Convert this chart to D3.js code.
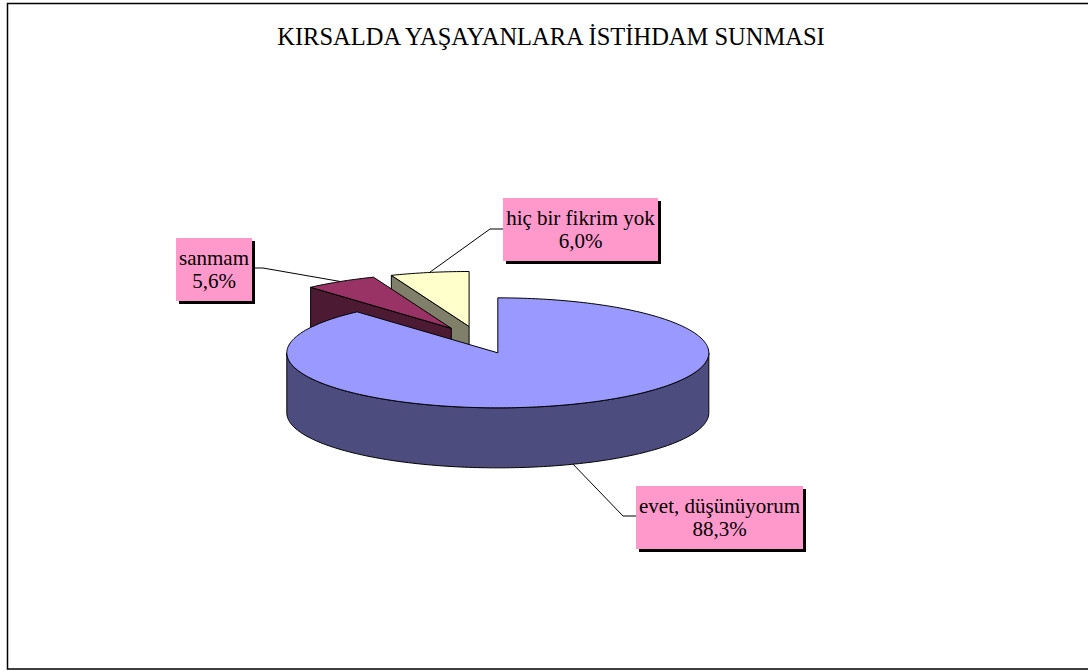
<!DOCTYPE html>
<html>
<head>
<meta charset="utf-8">
<script src="https://cdn.jsdelivr.net/npm/d3@7"></script>
<style>
  body { margin:0; background:#fff; }
</style>
</head>
<body>
<script>
// data
const categories = ['evet, düşünüyorum', 'sanmam', 'hiç bir fikrim yok'];
const values = [88.3, 5.6, 6.0];
const pctLabels = ['88,3%', '5,6%', '6,0%'];
const topColors = ['#9999FF', '#993366', '#FFFFCC'];
const sideColors = ['#4C4C7F', '#4D1A33', '#80806A'];
const title = 'KIRSALDA YAŞAYANLARA İSTİHDAM SUNMASI';

const w = 1088, h = 671;
const cx = 479, cy = 340, rx = 211, ry = 55, depth = 60, explode = 0.25;

// label boxes (x, y, width, height) and elbow of leader line
const boxes = [
  {x:636, y:486, w:167, h:63, ex:623, ey:516, side:'left'},
  {x:176, y:238, w:76, h:63, ex:263, ey:268, side:'right'},
  {x:503, y:198, w:155, h:63, ex:490, ey:229, side:'left'}
];

const svg = d3.select('body').append('svg').attr('width', w).attr('height', h)
  .attr('font-family', 'Liberation Serif');

svg.append('rect').attr('x', 7.5).attr('y', 3.5).attr('width', 1100).attr('height', 665.5)
  .attr('fill', 'none').attr('stroke', '#000').attr('stroke-width', 1.5);

svg.append('text').attr('x', 551).attr('y', 45).attr('text-anchor', 'middle')
  .attr('font-size', 24.5).text(title);

const pie = d3.pie().sort(null).startAngle(0).endAngle(2 * Math.PI);
const arcs = pie(values).map((d, i) => {
  const mid = (d.startAngle + d.endAngle) / 2;
  return {
    i, a0: d.startAngle, a1: d.endAngle, mid,
    ox: cx + explode * rx * Math.sin(mid),
    oy: cy - explode * ry * Math.cos(mid)
  };
});

// point on the ellipse, angle clockwise from 12 o'clock
function pt(s, a, dz) {
  return [s.ox + rx * Math.sin(a), s.oy - ry * Math.cos(a) + (dz || 0)];
}
function arcPts(s, a0, a1, dz) {
  const n = Math.max(2, Math.ceil(Math.abs(a1 - a0) / 0.02));
  return d3.range(n + 1).map(k => pt(s, a0 + (a1 - a0) * k / n, dz));
}
const line = d3.line();

// back to front
const order = arcs.slice().sort((a, b) => -Math.cos(a.mid) + Math.cos(b.mid));
const g = svg.append('g').attr('stroke', '#000').attr('stroke-width', 1).attr('stroke-linejoin', 'round');

order.forEach(s => {
  const apex = [s.ox, s.oy], apexB = [s.ox, s.oy + depth];
  // radial face at start angle
  if (Math.sin(s.a0) < -1e-6) {
    const p = pt(s, s.a0);
    g.append('path').attr('fill', sideColors[s.i])
      .attr('d', line([apex, p, [p[0], p[1] + depth], apexB]) + 'Z');
  }
  // radial face at end angle
  if (Math.sin(s.a1) > 1e-6) {
    const p = pt(s, s.a1);
    g.append('path').attr('fill', sideColors[s.i])
      .attr('d', line([apex, p, [p[0], p[1] + depth], apexB]) + 'Z');
  }
  // outer curved side, front half only
  const f0 = Math.max(s.a0, Math.PI / 2), f1 = Math.min(s.a1, 3 * Math.PI / 2);
  if (f1 > f0) {
    const top = arcPts(s, f0, f1, 0);
    const bot = arcPts(s, f1, f0, depth);
    g.append('path').attr('fill', sideColors[s.i]).attr('d', line(top.concat(bot)) + 'Z');
  }
  // top face
  g.append('path').attr('fill', topColors[s.i])
    .attr('d', line([apex].concat(arcPts(s, s.a0, s.a1, 0))) + 'Z');
});

// leader lines
arcs.forEach(s => {
  const b = boxes[s.i];
  let p = pt(s, s.mid);
  if (Math.cos(s.mid) < 0) p = [p[0], p[1] + depth];
  const bx = b.side === 'left' ? b.x : b.x + b.w;
  svg.append('path').attr('fill', 'none').attr('stroke', '#000').attr('stroke-width', 1)
    .attr('d', line([p, [b.ex, b.ey], [bx, b.ey]]));
});

// label boxes
arcs.forEach(s => {
  const b = boxes[s.i];
  const lg = svg.append('g');
  lg.append('rect').attr('x', b.x + 3).attr('y', b.y + 3).attr('width', b.w).attr('height', b.h).attr('fill', '#000');
  lg.append('rect').attr('x', b.x).attr('y', b.y).attr('width', b.w).attr('height', b.h).attr('fill', '#FF99CC');
  const tx = b.x + b.w / 2;
  lg.append('text').attr('x', tx).attr('y', b.y + 27).attr('text-anchor', 'middle')
    .attr('font-size', 21).text(categories[s.i]);
  lg.append('text').attr('x', tx).attr('y', b.y + 50).attr('text-anchor', 'middle')
    .attr('font-size', 21).text(pctLabels[s.i]);
});
</script>
</body>
</html>
